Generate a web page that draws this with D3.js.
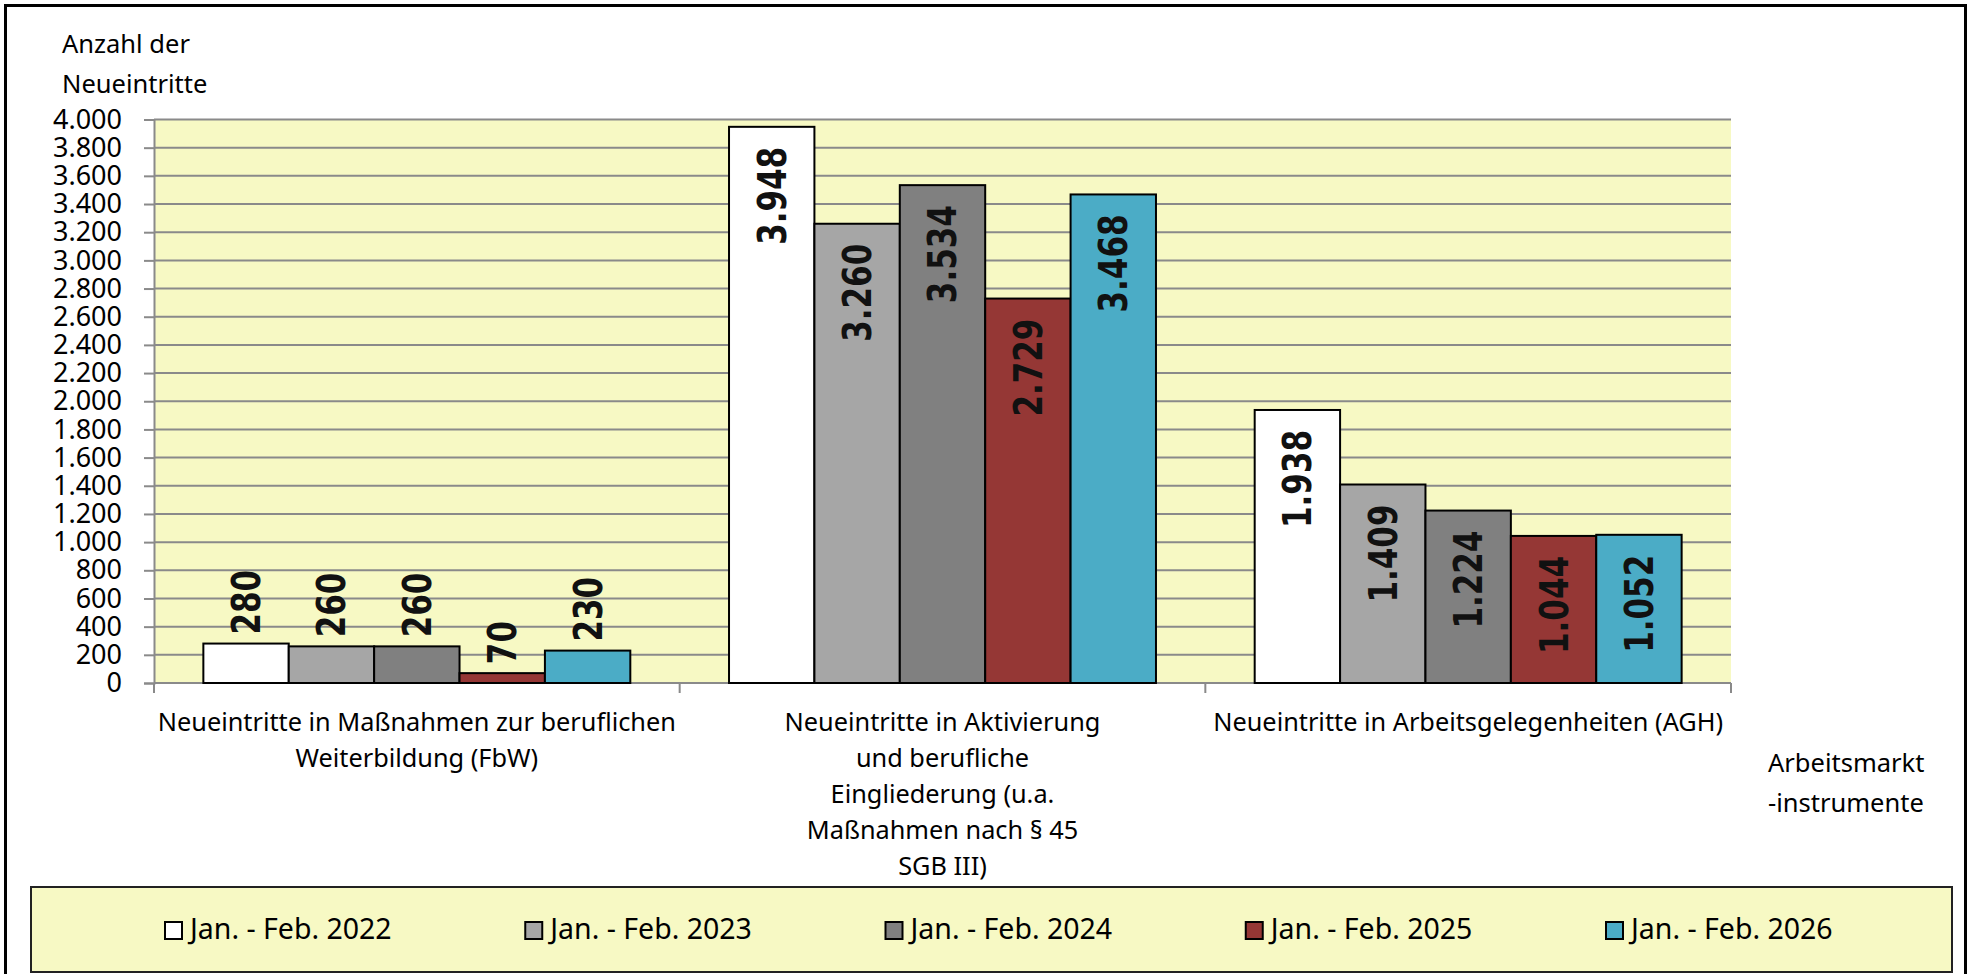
<!DOCTYPE html>
<html>
<head>
<meta charset="utf-8">
<script src="https://cdn.jsdelivr.net/npm/d3@7"></script>
<style>
  body { margin: 0; background: #fff; }
  text { font-family: "Noto Sans", "Open Sans", sans-serif; fill: #000; }
  .bar-number { font-family: "DejaVu Sans", sans-serif; font-weight: bold; fill: #111; }
</style>
</head>
<body>
<div id="chart"></div>
<script>
// Data
const categories = [
    "Neueintritte in Maßnahmen zur beruflichen\nWeiterbildung (FbW)",
    "Neueintritte in Aktivierung\nund berufliche\nEingliederung (u.a.\nMaßnahmen nach § 45\nSGB III)",
    "Neueintritte in Arbeitsgelegenheiten (AGH)"
];
const seriesNames = ["Jan. - Feb. 2022", "Jan. - Feb. 2023", "Jan. - Feb. 2024", "Jan. - Feb. 2025", "Jan. - Feb. 2026"];
const values2022 = [280, 3948, 1938];
const values2023 = [260, 3260, 1409];
const values2024 = [260, 3534, 1224];
const values2025 = [70, 2729, 1044];
const values2026 = [230, 3468, 1052];
const yTicks = [0, 200, 400, 600, 800, 1000, 1200, 1400, 1600, 1800, 2000, 2200, 2400, 2600, 2800, 3000, 3200, 3400, 3600, 3800, 4000];
const seriesColors = ["#ffffff", "#a6a6a6", "#808080", "#953735", "#4bacc6"];

const seriesValues = [values2022, values2023, values2024, values2025, values2026];

function createBarChart() {
    const W = 1970, H = 974;
    const plot = { left: 154, right: 1731, top: 119.5, bottom: 683 };

    const svg = d3.select("#chart")
        .append("svg")
        .attr("width", W)
        .attr("height", H);

    // outer frame
    svg.append("rect")
        .attr("x", 5.5).attr("y", 5.5)
        .attr("width", W - 10).attr("height", H - 4)
        .attr("fill", "#fff")
        .attr("stroke", "#000")
        .attr("stroke-width", 3);

    const de = d3.formatLocale({ decimal: ",", thousands: ".", grouping: [3], currency: ["", "€"] });
    const fmt = de.format(",d");

    // scales
    const x0 = d3.scaleBand()
        .domain(categories)
        .range([plot.left, plot.right])
        .padding(0);

    const x1 = d3.scaleBand()
        .domain(seriesNames)
        .range([0, x0.bandwidth()])
        .paddingInner(0)
        .paddingOuter(0.578);

    const yScale = d3.scaleLinear()
        .domain([0, 4000])
        .range([plot.bottom, plot.top]);

    const color = d3.scaleOrdinal().domain(seriesNames).range(seriesColors);

    // plot background
    svg.append("rect")
        .attr("x", plot.left)
        .attr("y", plot.top)
        .attr("width", plot.right - plot.left)
        .attr("height", plot.bottom - plot.top)
        .attr("fill", "#f7f9c4");

    // gridlines
    svg.append("g")
        .selectAll("line")
        .data(yTicks)
        .enter().append("line")
        .attr("x1", plot.left)
        .attr("x2", plot.right)
        .attr("y1", d => yScale(d))
        .attr("y2", d => yScale(d))
        .attr("stroke", "#8a8a8a")
        .attr("stroke-width", 2);

    // y axis
    const yAxis = svg.append("g")
        .attr("transform", `translate(${plot.left},0)`)
        .call(d3.axisLeft(yScale).tickValues(yTicks).tickSize(10).tickPadding(22).tickFormat(fmt));
    yAxis.select(".domain").attr("stroke", "#8a8a8a").attr("stroke-width", 2);
    yAxis.selectAll(".tick line").attr("stroke", "#8a8a8a").attr("stroke-width", 2);
    yAxis.selectAll("text")
        .style("font-family", "'Noto Sans', sans-serif")
        .style("font-size", "27px")
        .attr("fill", "#000");

    // x axis line + ticks at category boundaries
    svg.append("line")
        .attr("x1", plot.left).attr("x2", plot.right)
        .attr("y1", plot.bottom).attr("y2", plot.bottom)
        .attr("stroke", "#8a8a8a").attr("stroke-width", 2);

    const boundaries = categories.map(c => x0(c)).concat([x0(categories[categories.length - 1]) + x0.bandwidth()]);
    svg.append("g")
        .selectAll("line")
        .data(boundaries)
        .enter().append("line")
        .attr("x1", d => d).attr("x2", d => d)
        .attr("y1", plot.bottom).attr("y2", plot.bottom + 10)
        .attr("stroke", "#8a8a8a").attr("stroke-width", 2);

    // bars
    const rows = [];
    categories.forEach((c, ci) => {
        seriesNames.forEach((s, si) => {
            rows.push({ category: c, series: s, value: seriesValues[si][ci] });
        });
    });

    svg.selectAll(".bar")
        .data(rows)
        .enter().append("rect")
        .attr("class", "bar")
        .attr("x", d => x0(d.category) + x1(d.series))
        .attr("y", d => yScale(d.value))
        .attr("width", x1.bandwidth())
        .attr("height", d => plot.bottom - yScale(d.value))
        .attr("fill", d => color(d.series))
        .attr("stroke", "#000")
        .attr("stroke-width", 2);

    // value labels (rotated)
    svg.selectAll(".bar-number")
        .data(rows)
        .enter().append("text")
        .attr("class", "bar-number")
        .attr("transform", d => {
            const cx = x0(d.category) + x1(d.series) + x1.bandwidth() / 2;
            const inside = plot.bottom - yScale(d.value) > 120;
            const ty = inside ? yScale(d.value) + 20 : yScale(d.value) - 9;
            return `translate(${cx},${ty}) rotate(-90) scale(1,1.25)`;
        })
        .attr("text-anchor", d => (plot.bottom - yScale(d.value) > 120) ? "end" : "start")
        .attr("dy", "0.36em")
        .style("font-size", "31px")
        .text(d => fmt(d.value));

    // category labels
    categories.forEach(c => {
        const lines = c.split("\n");
        const t = svg.append("text")
            .attr("text-anchor", "middle")
            .style("font-size", "25.3px");
        lines.forEach((line, i) => {
            t.append("tspan")
                .attr("x", x0(c) + x0.bandwidth() / 2)
                .attr("y", 731 + i * 36)
                .text(line);
        });
    });

    // axis titles
    const yTitle = svg.append("text").style("font-size", "25.5px");
    yTitle.append("tspan").attr("x", 62).attr("y", 53).text("Anzahl der");
    yTitle.append("tspan").attr("x", 62).attr("y", 93).text("Neueintritte");

    const xTitle = svg.append("text").style("font-size", "25.5px");
    xTitle.append("tspan").attr("x", 1768).attr("y", 772).text("Arbeitsmarkt");
    xTitle.append("tspan").attr("x", 1768).attr("y", 812).text("-instrumente");

    // legend
    svg.append("rect")
        .attr("x", 31).attr("y", 887)
        .attr("width", 1921).attr("height", 85)
        .attr("fill", "#f7f9c4")
        .attr("stroke", "#222")
        .attr("stroke-width", 2);

    const legend = svg.selectAll(".legend-item")
        .data(seriesNames)
        .enter().append("g")
        .attr("class", "legend-item")
        .attr("transform", (d, i) => `translate(${164 + i * 360.25},922)`);

    legend.append("rect")
        .attr("x", 1).attr("y", 0)
        .attr("width", 17).attr("height", 17)
        .attr("fill", d => color(d))
        .attr("stroke", "#000")
        .attr("stroke-width", 2);

    legend.append("text")
        .attr("x", 26)
        .attr("y", 17)
        .style("font-size", "28.5px")
        .text(d => d);
}

createBarChart();
</script>
</body>
</html>
